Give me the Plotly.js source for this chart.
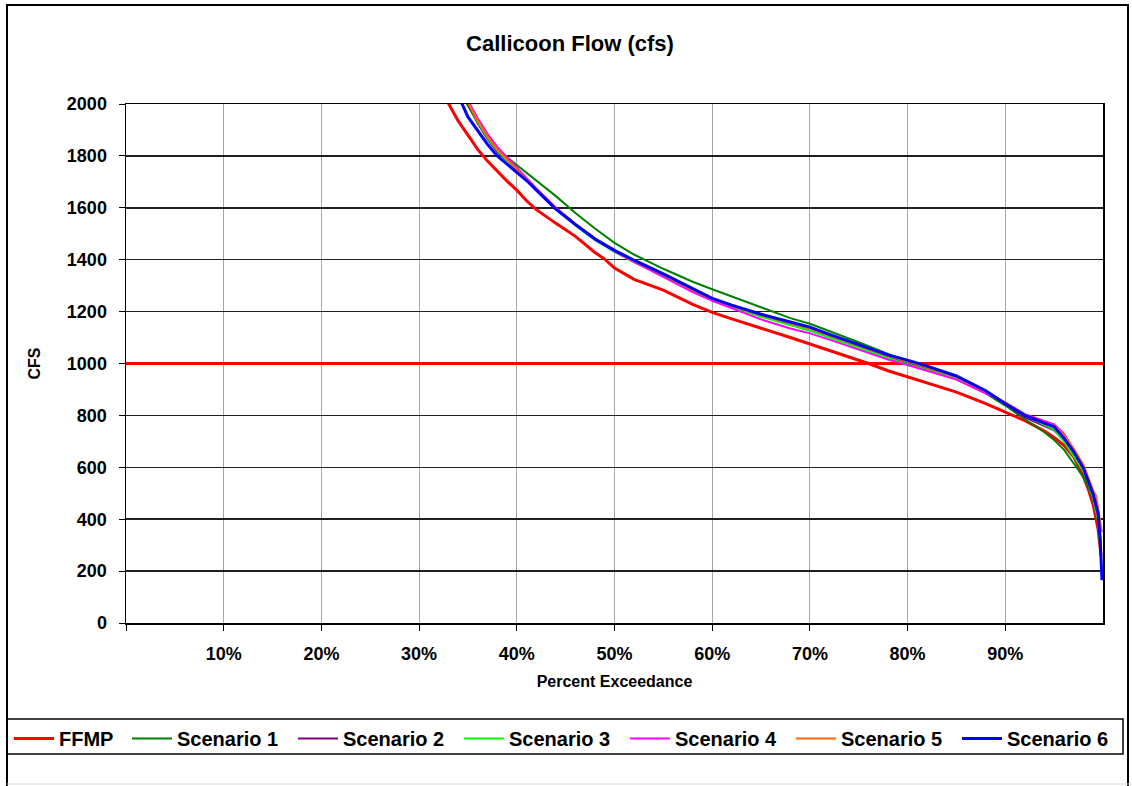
<!DOCTYPE html>
<html>
<head>
<meta charset="utf-8">
<script src="https://cdn.plot.ly/plotly-3.0.1.min.js"></script>
<style>html,body{margin:0;padding:0;background:#fff;}#chart{width:1132px;height:786px;}</style>
</head>
<body>
<div id="chart"></div>
<script>
// ---- data (percent exceedance vs flow, cfs) ----
var seriesNames = ["FFMP", "Scenario 1", "Scenario 2", "Scenario 3", "Scenario 4", "Scenario 5", "Scenario 6"];
var xTickVals = [0, 10, 20, 30, 40, 50, 60, 70, 80, 90];
var xTickText = ["", "10%", "20%", "30%", "40%", "50%", "60%", "70%", "80%", "90%"];
var thresholdX = [0, 100];
var thresholdY = [1000, 1000];

var ffmpX = [32, 33, 34, 35, 36, 37, 38, 39, 40, 41, 42, 43, 44, 46, 48, 49, 50, 52, 55, 58, 60, 62, 65, 68, 70, 72, 75, 76, 78, 80, 82, 85, 88, 90, 92, 94, 95, 96, 97, 98, 98.5, 99, 99.5, 99.8];
var ffmpY = [2070, 2000, 1935, 1880, 1825, 1780, 1740, 1703, 1668, 1627, 1593, 1565, 1540, 1490, 1428, 1402, 1368, 1324, 1283, 1228, 1197, 1172, 1137, 1100, 1075, 1050, 1012, 1000, 972, 948, 925, 890, 845, 812, 780, 740, 715, 685, 640, 565, 515, 455, 360, 260];

var s1X = [34.3, 34.9, 36, 37, 38, 39, 40, 42, 44, 46, 48, 50, 52, 55, 58, 60, 62, 65, 68, 70, 72, 75, 78, 80, 82, 85, 88, 90, 92, 94, 95, 96, 97, 97.4, 98, 98.5, 99, 99.5, 99.8];
var s1Y = [2060, 2000, 1930, 1870, 1825, 1795, 1765, 1705, 1645, 1580, 1520, 1465, 1420, 1365, 1315, 1286, 1258, 1215, 1175, 1153, 1125, 1082, 1037, 1006, 980, 940, 885, 838, 785, 735, 705, 668, 615, 595, 560, 525, 470, 390, 250];

var s2X = [34.4, 35, 36, 37, 38, 39, 40, 42, 44, 46, 48, 50, 52, 55, 58, 60, 62, 65, 68, 70, 72, 75, 78, 80, 82, 85, 88, 90, 92, 94, 95, 96, 97, 98, 98.5, 99, 99.5, 99.8];
var s2Y = [2060, 2000, 1925, 1865, 1815, 1780, 1748, 1672, 1600, 1538, 1482, 1436, 1396, 1342, 1282, 1248, 1220, 1183, 1150, 1130, 1105, 1066, 1027, 1002, 980, 945, 890, 848, 792, 758, 742, 705, 645, 588, 545, 480, 400, 290];

var s3X = [34.5, 35.1, 36, 37, 38, 39, 40, 42, 44, 46, 48, 50, 52, 55, 58, 60, 62, 65, 68, 70, 72, 75, 78, 80, 82, 85, 88, 90, 92, 94, 95, 96, 97, 98, 98.5, 99, 99.5, 99.8];
var s3Y = [2060, 2000, 1930, 1870, 1820, 1782, 1750, 1670, 1595, 1532, 1475, 1430, 1390, 1338, 1280, 1245, 1218, 1180, 1148, 1127, 1100, 1060, 1020, 997, 975, 942, 888, 848, 800, 765, 745, 700, 640, 585, 540, 478, 395, 280];

var s4X = [34.6, 35.2, 36, 37, 38, 39, 40, 42, 44, 46, 48, 50, 52, 55, 58, 60, 62, 65, 68, 70, 72, 75, 78, 80, 82, 85, 88, 90, 92, 94, 95, 96, 97, 98, 98.5, 99, 99.5, 99.8];
var s4Y = [2060, 2000, 1945, 1885, 1835, 1795, 1755, 1675, 1600, 1535, 1478, 1432, 1392, 1335, 1275, 1242, 1212, 1170, 1135, 1116, 1092, 1055, 1015, 994, 972, 938, 885, 850, 805, 778, 765, 730, 670, 600, 552, 490, 410, 300];

var s5X = [34.5, 35.1, 36, 37, 38, 39, 40, 42, 44, 46, 48, 50, 52, 55, 58, 60, 62, 65, 68, 70, 72, 75, 78, 80, 82, 85, 88, 90, 92, 94, 95, 96, 97, 98, 98.5, 99, 99.3, 99.6, 99.9];
var s5Y = [2060, 2000, 1935, 1875, 1825, 1785, 1748, 1670, 1598, 1535, 1480, 1435, 1396, 1343, 1284, 1249, 1222, 1186, 1155, 1134, 1108, 1068, 1030, 1008, 985, 948, 892, 850, 800, 770, 760, 725, 672, 610, 560, 510, 490, 420, 350];

var s6X = [33.8, 34.4, 35, 36, 37, 38, 39, 40, 41, 42, 44, 46, 48, 50, 52, 55, 58, 60, 62, 65, 68, 70, 72, 75, 78, 80, 82, 85, 88, 90, 92, 94, 95, 96, 97, 98, 98.5, 99, 99.5, 99.7, 99.9];
var s6Y = [2060, 2000, 1950, 1895, 1845, 1800, 1768, 1739, 1705, 1668, 1595, 1535, 1480, 1436, 1398, 1345, 1287, 1251, 1225, 1190, 1160, 1140, 1112, 1072, 1033, 1013, 990, 952, 895, 845, 800, 770, 756, 712, 660, 596, 545, 495, 422, 330, 165];

var seriesX = [ffmpX, s1X, s2X, s3X, s4X, s5X, s6X];
var seriesY = [ffmpY, s1Y, s2Y, s3Y, s4Y, s5Y, s6Y];
var seriesColors = ["#FF0000", "#008000", "#800080", "#00FF00", "#FF00FF", "#FF6600", "#0000FF"];
var seriesWidths = [3, 2, 2, 2, 2, 2, 3];
// left edge (px) of each legend entry
var legendLeft = [9, 127, 293, 459, 625, 791, 957];

var FONT = "Liberation Sans, Arial, sans-serif";
var W = 1132, H = 786;

var traces = [{
  x: thresholdX, y: thresholdY, type: "scatter", mode: "lines",
  line: {color: "#FF0000", width: 3}, showlegend: false, hoverinfo: "skip"
}];
var legendFont = {family: FONT, size: 20, weight: "bold", color: "#000"};

var layout = {
  width: W, height: H,
  margin: {l: 126, r: 29, t: 104, b: 163, pad: 0},
  paper_bgcolor: "#ffffff", plot_bgcolor: "#ffffff",
  font: {family: FONT, color: "#000000"},
  title: {
    text: "Callicoon Flow (cfs)",
    font: {family: FONT, size: 22, weight: "bold", color: "#000"},
    xref: "container", x: 570 / W, xanchor: "center",
    yref: "container", y: 1 - 43 / H, yanchor: "middle"
  },
  xaxis: {
    range: [0, 100], tickvals: xTickVals, ticktext: xTickText,
    showgrid: true, gridcolor: "#a6a6a6", gridwidth: 1,
    zeroline: false, showline: true, linecolor: "#000", linewidth: 1.5, mirror: true,
    ticks: "outside", ticklen: 6, tickcolor: "#000", tickwidth: 1,
    ticklabelstandoff: 8,
    tickfont: {family: FONT, size: 18, weight: "bold", color: "#000"},
    title: {text: "Percent Exceedance", standoff: 12, font: {family: FONT, size: 16, weight: "bold", color: "#000"}}
  },
  yaxis: {
    range: [0, 2000], dtick: 200, tick0: 0,
    showgrid: true, gridcolor: "#202020", gridwidth: 1.5,
    zeroline: false, showline: true, linecolor: "#000", linewidth: 1.5, mirror: true,
    ticks: "outside", ticklen: 6, tickcolor: "#000", tickwidth: 1,
    ticklabelstandoff: 8,
    tickfont: {family: FONT, size: 18, weight: "bold", color: "#000"},
    title: {text: "CFS", standoff: 22, font: {family: FONT, size: 16, weight: "bold", color: "#000"}}
  },
  showlegend: true,
  shapes: []
};

for (var i = 0; i < seriesNames.length; i++) {
  var lid = i === 0 ? "legend" : "legend" + (i + 1);
  traces.push({
    x: seriesX[i], y: seriesY[i], name: seriesNames[i], type: "scatter", mode: "lines",
    line: {color: seriesColors[i], width: seriesWidths[i]},
    legend: lid
  });
  layout[lid] = {
    orientation: "h", xref: "container", yref: "container",
    x: legendLeft[i] / W, xanchor: "left", y: 1 - 719 / H, yanchor: "top",
    borderwidth: 0, bgcolor: "rgba(0,0,0,0)", font: legendFont, itemwidth: 40
  };
}

// paper-coordinate helpers for plot area (126..1103 x, 104..623 y)
function px(p) { return (p - 126) / 977; }
function py(p) { return (623 - p) / 519; }

layout.shapes = [
  {type: "rect", xref: "paper", yref: "paper", x0: px(7), x1: px(1128), y0: py(800), y1: py(5),
   line: {color: "#000", width: 2}, fillcolor: "rgba(0,0,0,0)", layer: "below"},
  {type: "line", xref: "paper", yref: "paper", x0: px(7), x1: px(1132), y0: py(784), y1: py(784),
   line: {color: "#d9d9d9", width: 1}},
  {type: "rect", xref: "paper", yref: "paper", x0: px(7), x1: px(1123), y0: py(754), y1: py(719),
   line: {color: "#000", width: 1.5}, fillcolor: "rgba(0,0,0,0)", layer: "above"}
];

Plotly.newPlot("chart", traces, layout, {displayModeBar: false, staticPlot: true});
</script>
</body>
</html>
